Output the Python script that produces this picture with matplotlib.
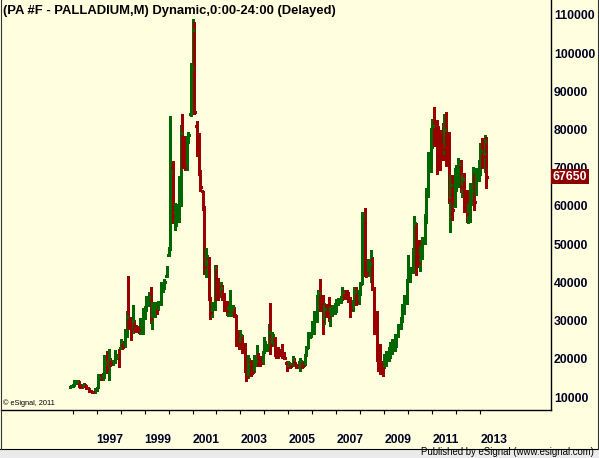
import matplotlib
matplotlib.use('Agg')
import matplotlib.pyplot as plt
import pandas as pd
from matplotlib.patches import Rectangle
from matplotlib.lines import Line2D

# ---------------- data (monthly OHLC, Dec 1995 - Apr 2013) ----------------
start_month = '1995-12-01'
opens = [12700,12900,13100,14000,14100,13000,12700,13300,12800,12300,11700,11400,11200,11900,12300,15200,14800,15800,19000,17200,
         20000,18800,19300,20400,21000,22800,24400,23300,26500,30800,30000,27200,29800,28500,28000,27500,28500,31800,32800,35200,
         36500,30000,31800,33500,33000,34500,38500,39200,41800,47200,48800,70000,57500,58500,59500,64000,80000,73000,70000,76800,
         84000,96000,106000,81000,76000,69000,63800,59500,44000,46500,36000,31800,33000,43500,39500,37000,38500,36500,34000,32000,
         32200,33000,33300,31200,26200,24000,25800,23500,17500,15200,19500,17500,16500,19500,21000,19800,19000,21500,22800,23500,
         28000,24000,25000,22200,22000,22000,23000,21200,19000,17800,18800,18500,19800,18400,18000,18500,19200,18500,21000,23000,
         25800,27000,29000,31500,35000,37500,34500,30500,33000,32000,30500,32000,32800,33500,34500,35500,36000,37500,36800,36200,
         35500,33000,34500,37800,35000,37200,39800,57500,44000,42500,44800,46500,38500,29000,20500,22000,18500,18000,19500,20500,
         21500,23500,24200,25000,26200,28500,30500,33500,35500,40800,42200,43200,48000,55000,47000,45000,48000,50500,57500,64000,
         70000,79000,81200,79000,77500,76500,76000,75000,80000,77000,61500,65500,60000,64500,68500,70500,65000,67000,61000,57500,
         58500,64000,66000,64000,69000,70500,75000,73500,77000]
highs = [13100,13400,14400,14500,14300,13300,13500,13500,13100,12400,11900,11700,12300,12500,16000,16000,16200,21000,22100,22500,
         20300,19600,22300,21300,22500,25200,24600,27800,32600,41800,30900,34000,30200,28700,28400,30800,33400,33900,36500,37500,
         38800,34800,34800,33800,35100,40000,39600,40900,44400,49200,83500,71700,60800,60400,67900,81100,84200,78200,78200,79500,
         97500,109000,108100,82200,79100,69300,64000,60000,48900,46600,36100,34900,44500,44500,41200,40200,39300,37100,35100,34200,
         38000,34200,33500,31500,27600,27600,26200,24200,18500,21000,19700,19000,21000,23600,21400,20800,22100,25600,23900,29100,
         34600,26900,25600,23000,23000,22500,23900,21700,19500,19500,19000,20800,20300,18600,19500,20300,19500,21200,23400,26900,
         26900,30000,32600,36600,37900,41000,36600,34500,34400,36100,33500,34000,34500,35700,36000,36500,38800,37900,37900,37500,
         36100,35300,38800,38800,37900,40000,58500,59400,45400,46200,48400,46700,38800,32600,21000,23900,19500,21200,22100,23000,
         24300,25200,26500,26500,29100,30900,34400,36600,41000,47100,44000,49000,57400,55500,51000,49500,51800,58000,64700,74200,
         80300,82700,86000,82600,81000,79900,81700,84000,84500,79500,68100,68100,69900,70800,72500,72000,68100,68600,64200,60700,
         65900,70300,69000,70000,72000,76500,77800,78600,78100]
lows = [12500,12600,13000,13300,12600,12400,12600,12600,12100,11400,11200,11000,11000,11600,12300,14400,14400,15100,16400,14400,
        18100,18300,19000,19900,17900,22500,22600,23000,25600,27900,24900,26800,27100,27100,26800,26600,26600,30400,32500,33900,
        29300,27800,30900,31600,32800,34000,37400,38300,41500,46800,48400,55500,53800,54800,55700,60000,69900,69500,69500,76400,
        83500,95800,84000,73000,68200,64000,59000,42200,41300,35300,30500,30900,32800,35300,35300,36300,35400,32400,31500,31100,
        31100,31100,30900,23400,22500,23400,21500,16500,14200,15100,15500,16000,16500,18200,18200,18200,18600,21500,22100,22100,
        21200,23400,20800,20300,20300,21200,20300,19900,16800,17700,17700,18200,18600,17700,17700,16800,17700,18400,20800,22900,
        25600,26900,26500,29600,32600,32600,26500,29000,30900,30000,28700,31300,31800,32200,34000,34500,35300,35700,35700,35000,
        30900,32600,34000,34000,34400,36600,39700,41800,41400,41800,40100,37900,26500,19500,16800,16000,15500,17700,18200,19500,
        20300,21200,22100,23000,25600,27800,29600,31800,34400,40500,40000,42500,47500,42000,44000,43000,46000,50000,55500,62400,
        69000,75100,75700,68400,72200,69400,72000,73500,70500,60700,53300,56300,59800,64000,65000,63700,62400,58500,55900,55500,
        55900,60300,59000,63000,66500,68000,70000,69000,64600]
closes = [12900,13100,14100,14200,13000,12700,13300,12800,12300,11700,11400,11200,12000,12200,15200,14800,15800,19000,17200,20000,
          18800,19300,21200,20800,19800,24500,23200,26500,31000,29500,27200,30000,28300,27800,27500,28500,32000,32800,35500,36200,
          30500,34000,33500,32400,34500,38500,39200,40200,43800,48800,69000,57500,58500,59500,64000,79000,71000,70000,76000,78500,
          95000,106000,84500,74000,70000,65000,59500,44000,47000,37000,32000,34000,44000,39500,37000,38500,36500,33500,32500,33500,
          33400,33500,31500,26200,24000,26200,22500,17500,15200,20000,17200,16500,19500,22200,19500,19000,21200,24500,23500,27000,
          23500,26200,21500,21000,21000,21500,21000,20300,17500,19000,18000,20000,19000,18000,19000,19500,18200,20500,22800,26200,
          26500,29500,31800,35500,37200,34500,30000,33000,31800,31000,32500,33200,33800,35000,35500,36000,37500,36500,36200,35500,
          33000,34500,37800,35000,37200,39500,57500,44000,42500,45000,47000,38500,29000,20500,18500,18000,17500,20500,21000,22200,
          23800,24500,25800,26200,28500,30500,33500,36000,40000,42500,43200,48000,55500,47000,45000,48000,50500,57500,64000,70000,
          79500,81000,78500,76000,76000,74500,75000,80000,77000,61500,65500,59000,65000,69000,71000,65000,67000,60000,58000,59000,
          64000,69000,61000,69000,70500,74500,73000,77000,67650]

year_ticks = list(range(1996, 2014))
year_labels = [str(y) if y % 2 == 1 else '' for y in year_ticks]
price_ticks = list(range(10000, 110001, 10000))
last_price = 67650
title = '(PA #F - PALLADIUM,M) Dynamic,0:00-24:00 (Delayed)'
footer = 'Published by eSignal (www.esignal.com)'
copyright_txt = '\u00a9 eSignal, 2011'

# ---------------- styling ----------------
W, H = 599, 458
BG = '#FFFFE0'
UP = '#006600'
DOWN = '#990000'
TXT = '#000022'
FONT = 'Liberation Sans'

fig = plt.figure(figsize=(W / 100, H / 100), dpi=100, facecolor=BG)


def box(x0, y0, x1, y1):
    return [x0 / W, 1 - y1 / H, (x1 - x0) / W, (y1 - y0) / H]


ax = fig.add_axes(box(1, 0, 551, 410))
ax.set_facecolor(BG)

dates = pd.date_range(start_month, periods=len(closes), freq='MS')
xpos = [d.year + (d.month - 1) / 12.0 for d in dates]
cols = [UP if c >= o else DOWN for o, c in zip(opens, closes)]
tick_w = 0.06
LW = 0.75

ax.vlines(xpos, lows, highs, colors=cols, linewidth=LW, antialiased=False)
ax.hlines(opens, [x - tick_w for x in xpos], xpos, colors=cols, linewidth=LW, antialiased=False)
ax.hlines(closes, xpos, [x + tick_w for x in xpos], colors=cols, linewidth=LW, antialiased=False)

# axes ranges (pixel calibrated)
ax.set_xlim(1996 + (1 - 72.5) / 24.0, 1996 + (551 - 72.5) / 24.0)
ax.set_ylim(10000 - (410 - 397) * 10000 / 38.2, 10000 + 397 * 10000 / 38.2)

for s in ['top', 'left']:
    ax.spines[s].set_visible(False)
for s in ['right', 'bottom']:
    ax.spines[s].set_color('black')
    ax.spines[s].set_linewidth(1.0)

ax.yaxis.tick_right()
ax.set_yticks(price_ticks)
ax.set_yticklabels([str(p) for p in price_ticks])
ax.tick_params(axis='y', length=0, pad=2, labelsize=8.8, labelcolor=TXT)
for lbl in ax.get_yticklabels():
    lbl.set_fontweight('bold')
    lbl.set_family(FONT)
    lbl.set_horizontalalignment('left')

ax.set_xticks(year_ticks)
ax.set_xticklabels(year_labels)
ax.tick_params(axis='x', length=3, width=0.8, direction='out', pad=14, labelsize=8.7, labelcolor=TXT)
for lbl in ax.get_xticklabels():
    lbl.set_fontweight('bold')
    lbl.set_family(FONT)
    lbl.set_horizontalalignment('left')

# last price marker on the price scale
ax.text(1.003, last_price, str(last_price), transform=ax.get_yaxis_transform(),
        ha='left', va='center', fontsize=8.8, fontweight='bold', family=FONT, color='white',
        bbox=dict(boxstyle='square,pad=0.12', fc='#8B0000', ec='none'), clip_on=False, zorder=10)

# title & texts
fig.text(3 / W, 1 - 11 / H, title, ha='left', va='center', fontsize=9.4, fontweight='bold',
         family=FONT, color='black')
fig.text(3 / W, 1 - 403 / H, copyright_txt, ha='left', va='center', fontsize=5.3, family=FONT, color='black')

# footer strip
fig.patches.append(Rectangle((0, 0), 1, 9.5 / H, transform=fig.transFigure, fc='#EBEBEB', ec='none', zorder=0))
fig.text(594 / W, 1 - 452 / H, footer, ha='right', va='center', fontsize=6.9, family=FONT, color='black')

# frame lines
fig.lines.append(Line2D([0, 1], [1 - 448.5 / H] * 2, transform=fig.transFigure, color='black', lw=0.8))
fig.lines.append(Line2D([0.6 / W] * 2, [1 - 448.5 / H, 1], transform=fig.transFigure, color='#333333', lw=0.8))
fig.lines.append(Line2D([598.4 / W] * 2, [1 - 448.5 / H, 1], transform=fig.transFigure, color='#333333', lw=0.8))

fig.savefig('out.png', dpi=100, facecolor=BG)
